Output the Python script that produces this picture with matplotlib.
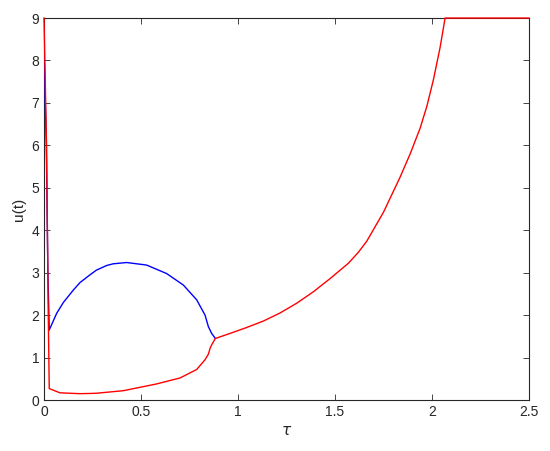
import matplotlib
matplotlib.use("Agg")
import matplotlib.pyplot as plt

plt.rcParams['font.family'] = ['Liberation Sans', 'DejaVu Sans']
plt.rcParams['font.size'] = 10

# blue branch (upper)
blue_tau = [0.0, 0.012, 0.02, 0.027, 0.065, 0.10, 0.151, 0.186, 0.237, 0.27,
            0.323, 0.357, 0.426, 0.529, 0.632, 0.718, 0.787, 0.830, 0.847,
            0.864, 0.883]
blue_u = [8.3, 6.0, 3.0, 1.65, 2.04, 2.30, 2.59, 2.77, 2.95, 3.06,
          3.17, 3.21, 3.24, 3.18, 2.98, 2.71, 2.36, 2.00, 1.73,
          1.57, 1.45]

# red branch (lower, then merged)
red_tau = [0.0, 0.013, 0.022, 0.027, 0.082, 0.186, 0.237, 0.27, 0.409, 0.581,
           0.701, 0.787, 0.830, 0.847, 0.856, 0.864, 0.883, 0.959, 1.045,
           1.130, 1.216, 1.302, 1.388, 1.474, 1.568, 1.620, 1.663, 1.749,
           1.835, 1.887, 1.938, 1.973, 2.007, 2.041, 2.067, 2.5]
red_u = [9.0, 6.0, 2.0, 0.27, 0.17, 0.15, 0.155, 0.16, 0.22, 0.38,
         0.52, 0.72, 0.95, 1.08, 1.22, 1.30, 1.45, 1.57, 1.71,
         1.86, 2.05, 2.28, 2.55, 2.86, 3.22, 3.48, 3.74, 4.42,
         5.25, 5.80, 6.40, 6.92, 7.55, 8.30, 9.0, 9.0]

x_ticks = [0, 0.5, 1, 1.5, 2, 2.5]
x_labels = ['0', '0.5', '1', '1.5', '2', '2.5']
y_ticks = list(range(10))

fig = plt.figure(figsize=(5.5, 4.51), dpi=100)
ax = fig.add_axes([0.08, 0.113, 0.882, 0.847])

ax.plot(blue_tau, blue_u, color='blue', lw=1.0, zorder=3)
ax.plot(red_tau, red_u, color='red', lw=1.0, zorder=4, clip_on=False)

ax.set_xlim(0, 2.5)
ax.set_ylim(0, 9)
ax.set_xticks(x_ticks)
ax.set_xticklabels(x_labels)
ax.set_yticks(y_ticks)
ax.tick_params(direction='in', top=True, right=True, length=4, width=0.6,
               colors='#262626', labelcolor='#262626')
for s in ax.spines.values():
    s.set_color('#262626')
    s.set_linewidth(0.8)
    s.set_zorder(2)

ax.set_xlabel(r'$\tau$', fontsize=11, color='#262626')
ax.set_ylabel('u(t)', fontsize=11, color='#262626')

fig.savefig('out.png', dpi=100)
